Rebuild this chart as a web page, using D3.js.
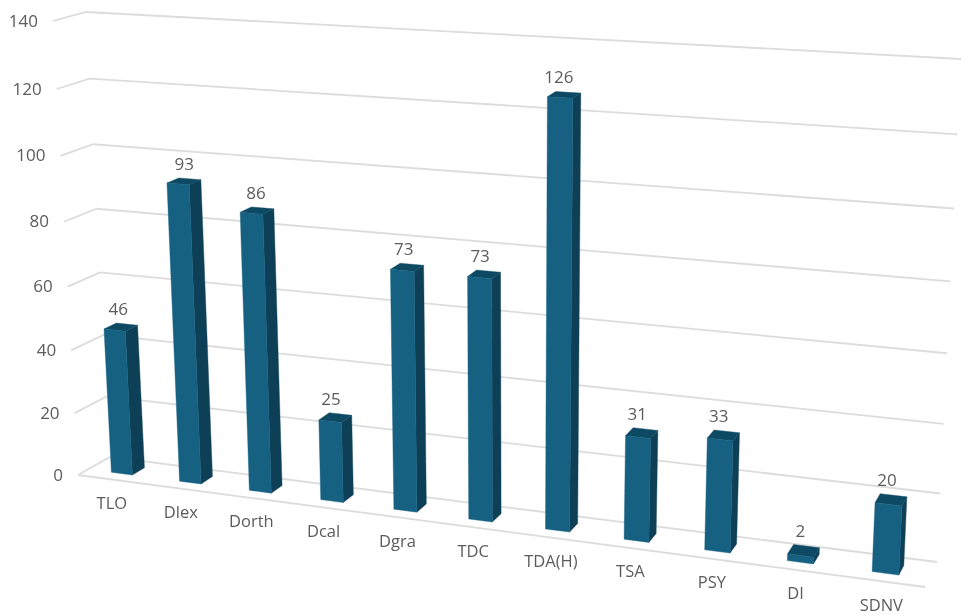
<!DOCTYPE html>
<html><head><meta charset="utf-8">
<script src="https://cdn.jsdelivr.net/npm/d3@7"></script>
<style>html,body{margin:0;padding:0;background:#fff}svg{display:block}</style>
</head><body><svg id="c" width="961" height="615"></svg>
<script>
const categories=["TLO","Dlex","Dorth","Dcal","Dgra","TDC","TDA(H)","TSA","PSY","DI","SDNV"];
const seriesValues=[46,93,86,25,73,73,126,31,33,2,20];
const tickValues=[0,20,40,60,80,100,120,140];

(function(){
const W=961,H=615;
const svg0=d3.select("#c").attr("viewBox",[0,0,W,H]);
svg0.append("defs").append("filter").attr("id","soft")
  .attr("filterUnits","userSpaceOnUse").attr("x",0).attr("y",0).attr("width",W).attr("height",H)
  .append("feGaussianBlur").attr("stdDeviation",0.4);
const svg=svg0.append("g").attr("filter","url(#soft)");
// projected corners of the plot box: [x,y]
const floor={fl:[78,475],fr:[925,587],bl:[110,457],br:[937,562]};
const ceil={fl:[53,21],fr:[950,74],bl:[86,12],br:[961,59]};
const lerp=(a,b,t)=>[a[0]+(b[0]-a[0])*t,a[1]+(b[1]-a[1])*t];
const uScale=d3.scaleBand().domain(categories).range([0,1]).paddingInner(0.69).paddingOuter(0.345);
const vScale=d3.scaleLinear().domain([0,140]).range([0,1]);
const warp=u=>0.875*u/(1-0.125*u);
const warpV=w=>0.946*w/(1-0.054*w);
function P(u,d,v){
  const t=warp(u);
  const lo=lerp(lerp(floor.fl,floor.fr,t),lerp(floor.bl,floor.br,t),d);
  const hi=lerp(lerp(ceil.fl,ceil.fr,t),lerp(ceil.bl,ceil.br,t),d);
  return lerp(lo,hi,warpV(vScale(v)));
}
const line=d3.line();
const grid="#dcdcdc",ink="#5c5c5c",frontCol="#156082",sideCol="#0d4057",topCol="#0f4a63";
const font="'Open Sans',sans-serif";

const gGrid=svg.append("g").attr("fill","none").attr("stroke",grid).attr("stroke-width",1.8);
gGrid.selectAll("path").data(tickValues).join("path")
  .attr("d",v=>line([P(0,0,v),P(0,1,v),P(1,1,v)]));
gGrid.append("path").attr("d",line([P(0,0,0),P(1,0,0)]));

svg.append("g").selectAll("text").data(tickValues).join("text")
  .attr("x",v=>P(0,0,v)[0]-15).attr("y",v=>P(0,0,v)[1]+1)
  .attr("text-anchor","end").attr("dominant-baseline","middle")
  .attr("font-family",font).attr("font-size",17).attr("fill",ink).text(d=>d);

const d0=0.32,d1=0.71;
const bars=svg.append("g").selectAll("g").data(categories.map((c,i)=>({c,v:seriesValues[i]}))).join("g");
bars.each(function(b){
  const g=d3.select(this),a=uScale(b.c),e=a+uScale.bandwidth(),v=b.v,m=(a+e)/2;
  g.append("path").attr("fill",sideCol).attr("stroke",sideCol).attr("stroke-width",.4).attr("d",line([P(e,d0,0),P(e,d1,0),P(e,d1,v),P(e,d0,v)])+"Z");
  g.append("path").attr("fill",topCol).attr("stroke",topCol).attr("stroke-width",.4).attr("d",line([P(a,d0,v),P(e,d0,v),P(e,d1,v),P(a,d1,v)])+"Z");
  g.append("path").attr("fill",frontCol).attr("stroke",frontCol).attr("stroke-width",.4).attr("d",line([P(a,d0,0),P(e,d0,0),P(e,d0,v),P(a,d0,v)])+"Z");
  g.append("text").attr("x",(P(m,d0,v)[0]+P(m,d0,0)[0])/2).attr("y",P(m,d1,v)[1]-13.5).attr("text-anchor","middle")
    .attr("dominant-baseline","middle").attr("font-family",font).attr("font-size",17).attr("fill",ink).text(v);
  const l=P(m,0,0);
  g.append("text").attr("x",l[0]).attr("y",l[1]+25).attr("text-anchor","middle")
    .attr("dominant-baseline","middle").attr("font-family",font).attr("font-size",16.5).attr("fill",ink).text(b.c);
});
})();
</script></body></html>
